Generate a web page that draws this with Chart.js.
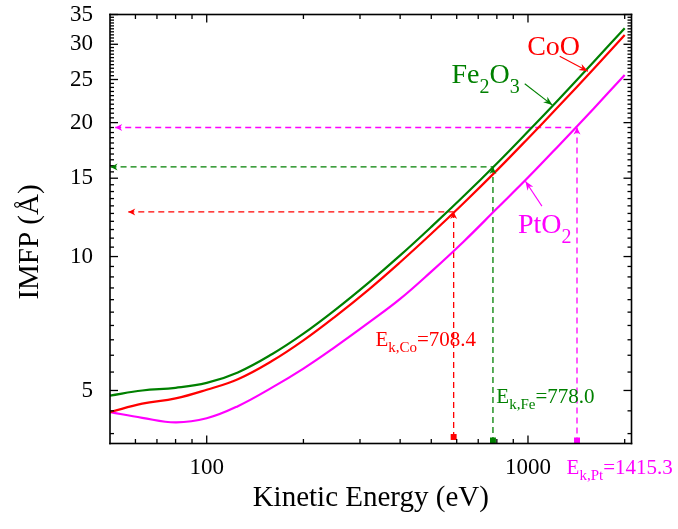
<!DOCTYPE html>
<html>
<head>
<meta charset="utf-8">
<script src="https://cdn.jsdelivr.net/npm/chart.js@4.4.1/dist/chart.umd.min.js"></script>
<style>
  html, body { margin: 0; padding: 0; background: #fff; }
</style>
</head>
<body>
<canvas id="imfpChart" width="678" height="529"></canvas>
<script>
// kinetic energy grid (eV) and IMFP curves (Å)
const energies  = [50, 63, 80, 100, 125, 160, 200, 250, 320, 400, 500, 630, 800, 1000, 1250, 1600, 2000];
const imfpCoO   = [4.47, 4.67, 4.8, 5.02, 5.3, 5.83, 6.48, 7.31, 8.44, 9.71, 11.25, 13.18, 15.62, 18.43, 21.82, 26.4, 31.47];
const imfpFe2O3 = [4.87, 5.0, 5.07, 5.2, 5.49, 6.04, 6.71, 7.57, 8.75, 10.06, 11.66, 13.66, 16.19, 19.1, 22.61, 27.37, 32.61];
const imfpPtO2  = [4.47, 4.34, 4.24, 4.33, 4.61, 5.08, 5.6, 6.25, 7.11, 8.03, 9.25, 10.8, 12.82, 15.05, 17.8, 21.5, 25.6];

// dashed read-off guides (Co, Fe, Pt)
const guideEnergy   = [587, 778, 1421];
const guideImfp     = [12.6, 15.9, 19.5];
const guideArrowTip = [57, 50.2, 51.9];
const guideBase     = [3.93, 3.86, 3.86];
const guideSub      = ['k,Co', 'k,Fe', 'k,Pt'];
const guideValue    = ['708.4', '778.0', '1415.3'];
const guideTextE    = [335, 797, 1319];
const guideTextImfp = [6.28, 4.69, 3.24];

const xMajorTicks = [100, 1000];
const xMinorTicks = [60, 70, 80, 90, 200, 300, 400, 500, 600, 700, 800, 900, 2000];
const yMajorTicks = [5, 10, 15, 20, 25, 30, 35];

const RED = '#ff0000', GREEN = '#008000', MAGENTA = '#ff00ff';
const guideColors = [RED, GREEN, MAGENTA];
const SERIF = '"Liberation Serif", "Times New Roman", serif';

let yMinorTicks = [];
for (let v = 4; v < 35; v += 0.5) {
  if (!yMajorTicks.includes(v)) yMinorTicks.push(v);
}

function curve(label, values, color) {
  return {
    label: label,
    data: energies.map((e, i) => ({ x: e, y: values[i] })),
    borderColor: color,
    borderWidth: 2.2,
    pointRadius: 0,
    tension: 0.4,
    fill: false
  };
}

let datasets = [
  curve('CoO', imfpCoO, RED),
  curve('Fe2O3', imfpFe2O3, GREEN),
  curve('PtO2', imfpPtO2, MAGENTA)
];

guideEnergy.forEach((e, i) => {
  const c = guideColors[i];
  datasets.push({
    data: [{ x: guideArrowTip[i], y: guideImfp[i] }, { x: e, y: guideImfp[i] }],
    borderColor: c, borderWidth: 1.3, borderDash: [6, 4], pointRadius: 0
  });
  datasets.push({
    data: [{ x: e, y: guideImfp[i] }, { x: e, y: guideBase[i] }],
    borderColor: c, borderWidth: 1.3, borderDash: [6, 4], pointRadius: 0
  });
  datasets.push({
    data: [{ x: e, y: guideBase[i] }],
    showLine: false, pointStyle: 'rect', pointRadius: 4.2,
    backgroundColor: c, borderColor: c, borderWidth: 0, clip: false
  });
});

// arrowhead with its tip at (tx, ty), pointing away from (fx, fy)
function arrowHead(ctx, tx, ty, fx, fy, len, half, color) {
  const a = Math.atan2(ty - fy, tx - fx);
  ctx.save();
  ctx.fillStyle = color;
  ctx.translate(tx, ty);
  ctx.rotate(a);
  ctx.beginPath();
  ctx.moveTo(0, 0);
  ctx.lineTo(-len, -half);
  ctx.lineTo(-len * 0.7, 0);
  ctx.lineTo(-len, half);
  ctx.closePath();
  ctx.fill();
  ctx.restore();
}

// text with subscripts: parts = [[text, isSub], ...]
function richText(ctx, parts, x, y, size, subSize, subDrop, color) {
  ctx.save();
  ctx.fillStyle = color;
  ctx.textBaseline = 'alphabetic';
  ctx.textAlign = 'left';
  parts.forEach(p => {
    ctx.font = (p[1] ? subSize : size) + 'px ' + SERIF;
    ctx.fillText(p[0], x, p[1] ? y + subDrop : y);
    x += ctx.measureText(p[0]).width;
  });
  ctx.restore();
}

const curveLabels = [
  { parts: [['CoO', false]], at: [994, 28.4], from: [1255, 28.2], to: [1537, 26.1], color: RED },
  { parts: [['Fe', false], ['2', true], ['O', false], ['3', true]], at: [578, 24.5], from: [977, 24.45], to: [1191, 21.9], color: GREEN },
  { parts: [['PtO', false], ['2', true]], at: [931, 11.3], from: [1105, 12.98], to: [982, 14.77], color: MAGENTA }
];

const decorations = {
  id: 'decorations',
  afterDraw(chart) {
    const { ctx, chartArea: a, scales: { x, y } } = chart;
    ctx.save();
    ctx.setLineDash([]);
    ctx.globalAlpha = 1;

    // frame and inward ticks on all four sides
    ctx.fillStyle = '#000';
    const w = 1.6;
    ctx.fillRect(a.left - w / 2, a.top - w / 2, a.right - a.left + w, w);
    ctx.fillRect(a.left - w / 2, a.bottom - w / 2, a.right - a.left + w, w);
    ctx.fillRect(a.left - w / 2, a.top - w / 2, w, a.bottom - a.top + w);
    ctx.fillRect(a.right - w / 2, a.top - w / 2, w, a.bottom - a.top + w);
    const t = 1.3;
    xMajorTicks.concat(xMinorTicks).forEach(v => {
      const len = xMajorTicks.includes(v) ? 8 : 4.5;
      const px = x.getPixelForValue(v);
      ctx.fillRect(px - t / 2, a.bottom - len, t, len);
      ctx.fillRect(px - t / 2, a.top, t, len);
    });
    yMajorTicks.concat(yMinorTicks).forEach(v => {
      const len = yMajorTicks.includes(v) ? 8 : 4;
      const py = y.getPixelForValue(v);
      ctx.fillRect(a.left, py - t / 2, len, t);
      ctx.fillRect(a.right - len, py - t / 2, len, t);
    });

    // arrowheads and energy labels of the guides
    guideEnergy.forEach((e, i) => {
      const c = guideColors[i];
      const px = x.getPixelForValue(e), py = y.getPixelForValue(guideImfp[i]);
      const tipX = x.getPixelForValue(guideArrowTip[i]);
      arrowHead(ctx, tipX, py, tipX + 10, py, 7, 3.5, c);
      arrowHead(ctx, px, py, px, py + 10, 7, 3.5, c);
      richText(ctx, [['E', false], [guideSub[i], true], ['=' + guideValue[i], false]],
        x.getPixelForValue(guideTextE[i]), y.getPixelForValue(guideTextImfp[i]), 21, 15, 6, c);
    });

    // curve names with pointer arrows
    curveLabels.forEach(l => {
      const fx = x.getPixelForValue(l.from[0]), fy = y.getPixelForValue(l.from[1]);
      const tx = x.getPixelForValue(l.to[0]), ty = y.getPixelForValue(l.to[1]);
      ctx.strokeStyle = l.color;
      ctx.lineWidth = 1.1;
      ctx.beginPath();
      ctx.moveTo(fx, fy);
      ctx.lineTo(tx, ty);
      ctx.stroke();
      arrowHead(ctx, tx, ty, fx, fy, 9, 3.5, l.color);
      richText(ctx, l.parts, x.getPixelForValue(l.at[0]), y.getPixelForValue(l.at[1]), 28, 20, 10, l.color);
    });

    // y axis title
    ctx.translate(30, 242);
    ctx.rotate(-Math.PI / 2);
    ctx.fillStyle = '#000';
    ctx.font = '29px ' + SERIF;
    ctx.textAlign = 'center';
    ctx.textBaseline = 'middle';
    ctx.fillText('IMFP (Å)', 0, 0);
    ctx.restore();
  }
};

function noEdgePadding(s) {
  s.paddingTop = 0;
  s.paddingBottom = 0;
  s.paddingLeft = 0;
  s.paddingRight = 0;
}

new Chart(document.getElementById('imfpChart'), {
  type: 'line',
  data: { datasets: datasets },
  options: {
    responsive: false,
    animation: false,
    devicePixelRatio: 1,
    layout: { padding: { left: 0, top: 14.5, right: 46.5, bottom: 0 } },
    plugins: { legend: { display: false }, tooltip: { enabled: false } },
    scales: {
      x: {
        type: 'logarithmic',
        min: 50,
        max: 2100,
        afterFit: s => { s.height = 85.5; noEdgePadding(s); },
        afterBuildTicks: s => { s.ticks = xMajorTicks.map(v => ({ value: v })); },
        grid: { display: false },
        border: { display: false },
        ticks: {
          callback: v => String(v),
          font: { family: SERIF, size: 23 },
          color: '#000',
          padding: 3,
          maxRotation: 0,
          autoSkip: false
        },
        title: {
          display: true,
          text: 'Kinetic Energy (eV)',
          font: { family: SERIF, size: 29 },
          color: '#000',
          padding: { top: 0, bottom: 13 }
        }
      },
      y: {
        type: 'logarithmic',
        min: 3.8,
        max: 35,
        afterFit: s => { s.width = 110; noEdgePadding(s); },
        afterBuildTicks: s => { s.ticks = yMajorTicks.map(v => ({ value: v })); },
        grid: { display: false },
        border: { display: false },
        ticks: {
          callback: v => String(v),
          font: { family: SERIF, size: 23 },
          color: '#000',
          padding: 9,
          autoSkip: false
        }
      }
    }
  },
  plugins: [decorations]
});
</script>
</body>
</html>
